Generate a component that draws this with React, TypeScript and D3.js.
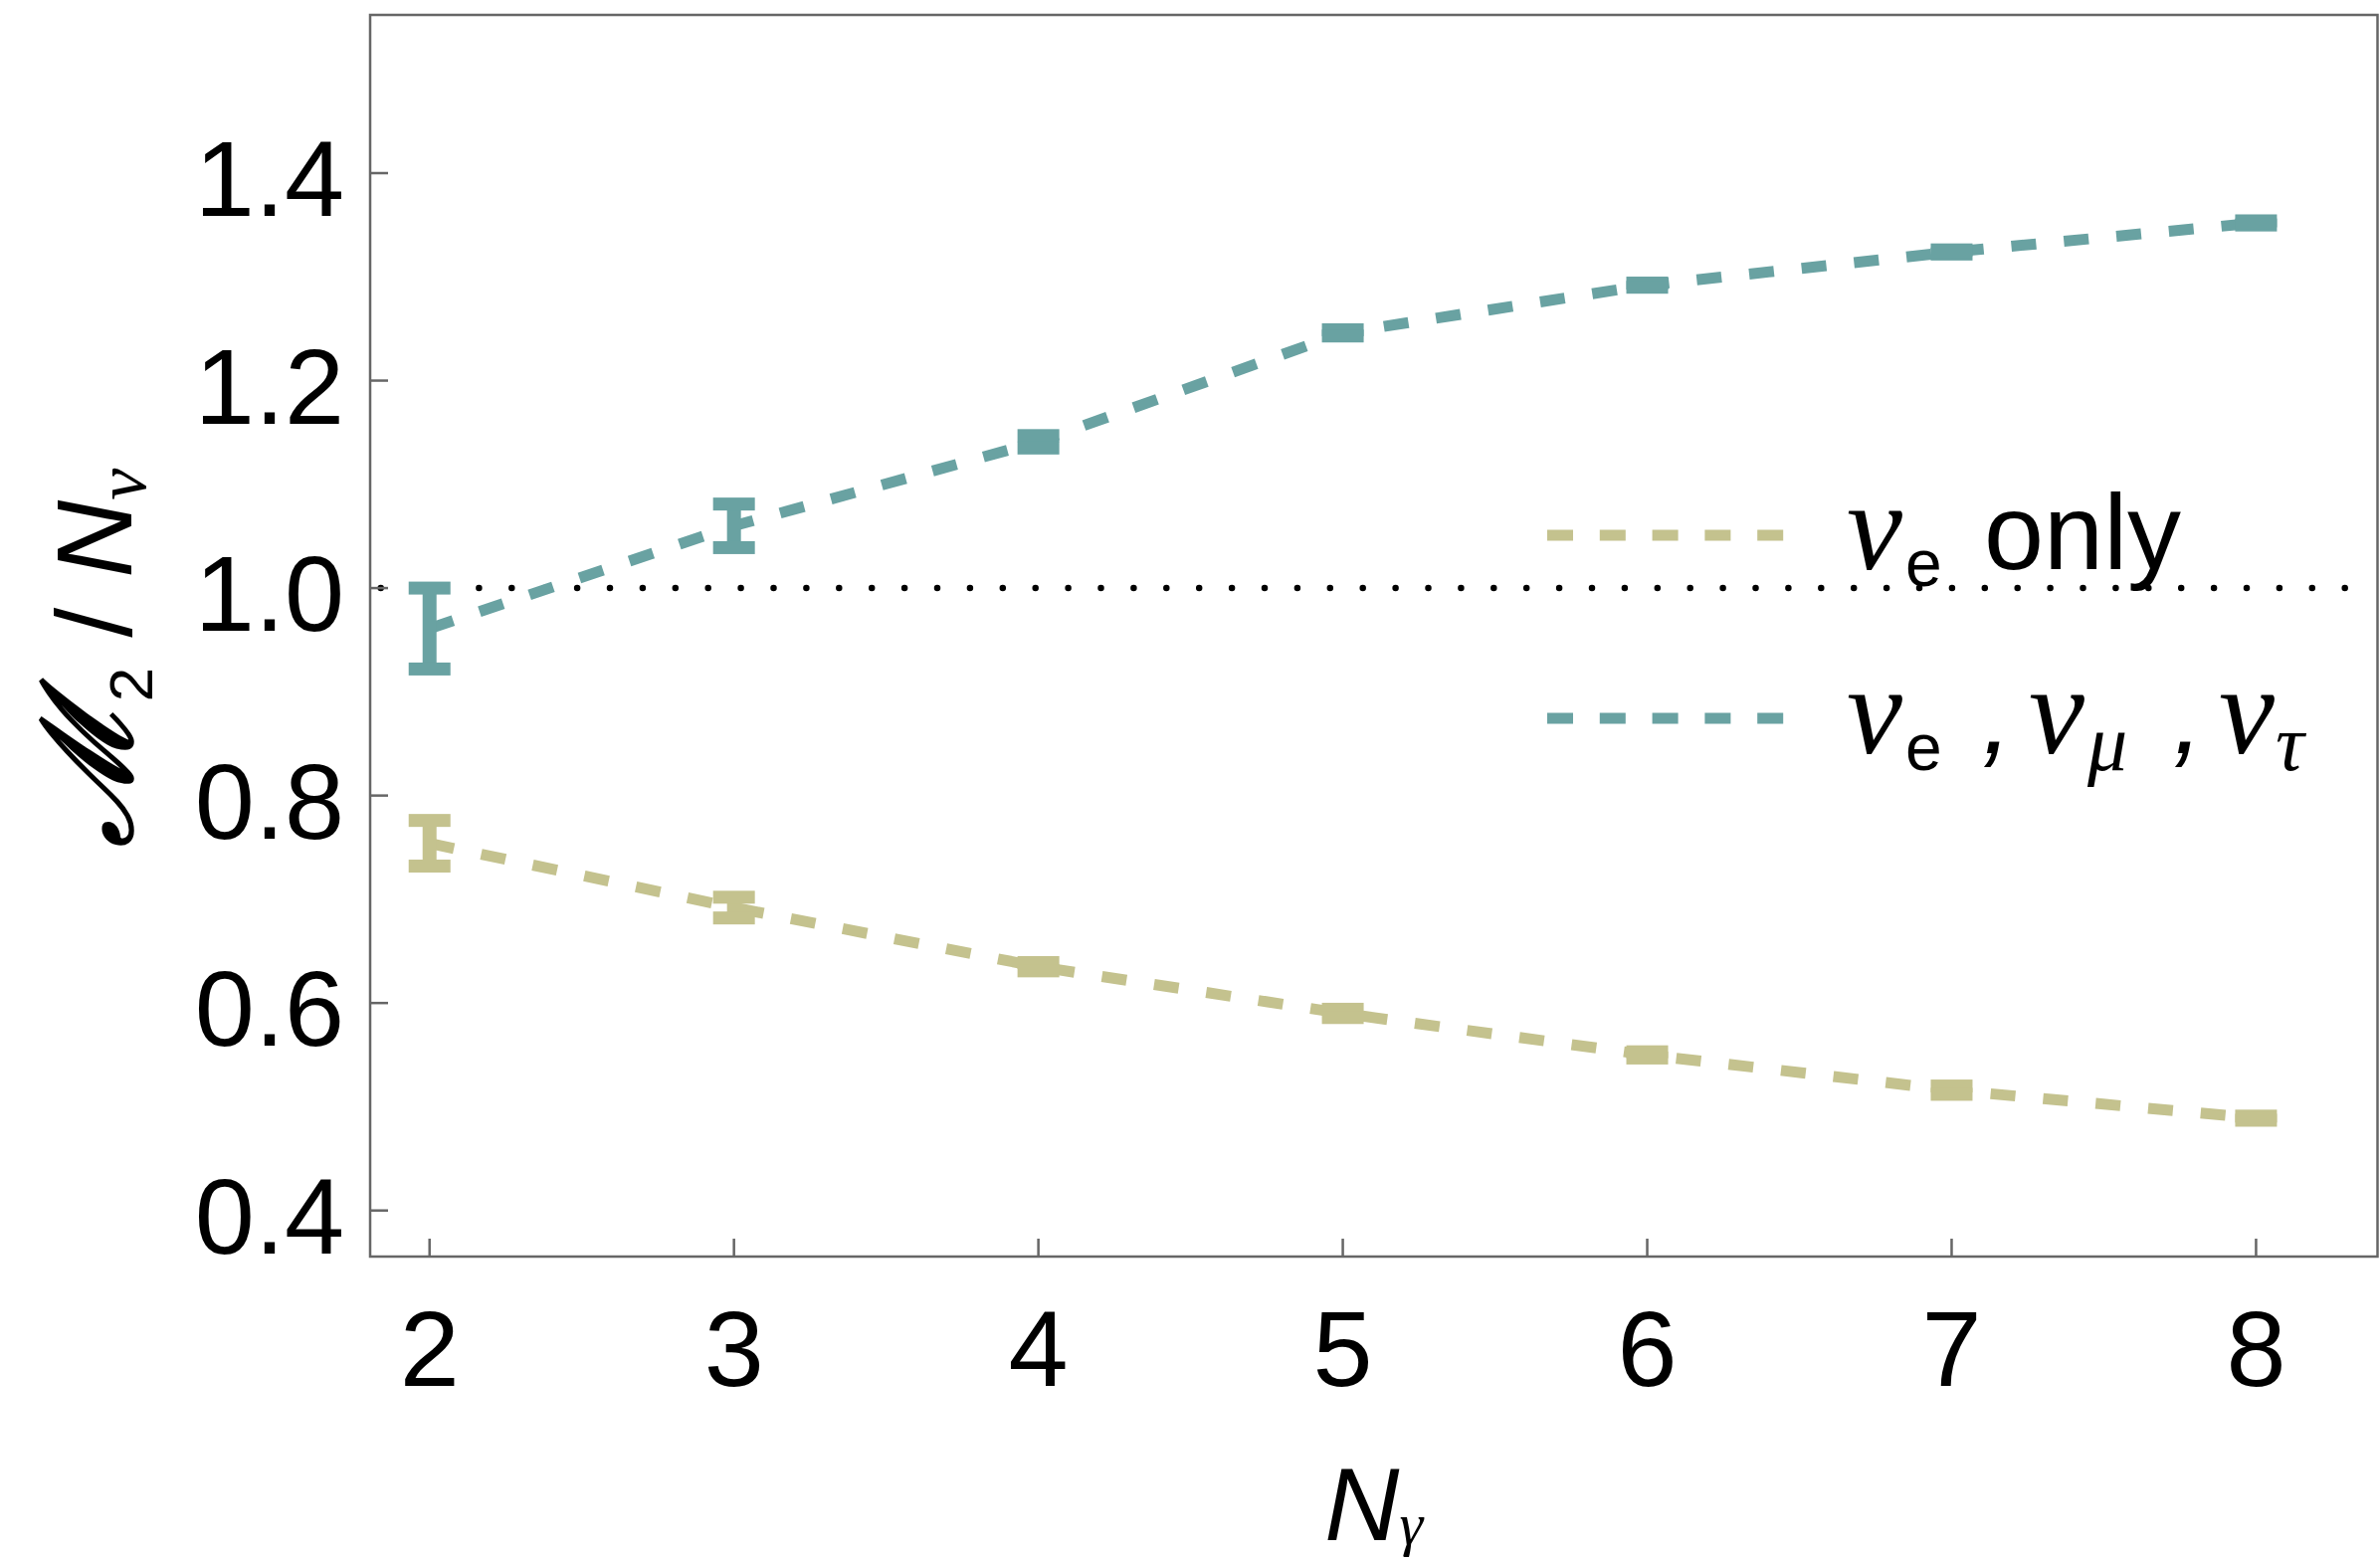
import React from 'react';
import * as d3 from 'd3';

// ---------- data ----------
const nuCounts = [2, 3, 4, 5, 6, 7, 8];
const allFlavorMean = [0.961, 1.06, 1.141, 1.246, 1.292, 1.324, 1.352];
const allFlavorErr = [0.039, 0.021, 0.006, 0.003, 0.002, 0.002, 0.002];
const electronOnlyMean = [0.754, 0.692, 0.635, 0.59, 0.55, 0.516, 0.489];
const electronOnlyErr = [0.022, 0.01, 0.004, 0.004, 0.003, 0.004, 0.002];
const xTicks = [2, 3, 4, 5, 6, 7, 8];
const yTicks = [0.4, 0.6, 0.8, 1.0, 1.2, 1.4];
const referenceLevel = 1.0;
const xDomain = [1.8048, 8.399];
const yDomain = [0.3556, 1.5525];

// ---------- style ----------
const W = 2392;
const H = 1570;
const plot = { left: 372, right: 2389.5, top: 15, bottom: 1263 };
const TEAL = '#69a2a2';
const OLIVE = '#c4c28e';
const FRAME = '#666666';
const SANS = "'Liberation Sans', Arial, Helvetica, sans-serif";
const SERIF = "'Liberation Serif', 'Times New Roman', serif";

const series = [
  { key: 'e', mean: electronOnlyMean, err: electronOnlyErr, color: OLIVE },
  { key: 'all', mean: allFlavorMean, err: allFlavorErr, color: TEAL },
];

export default function App() {
  const x = d3.scaleLinear().domain(xDomain).range([plot.left, plot.right]);
  const y = d3.scaleLinear().domain(yDomain).range([plot.bottom, plot.top]);
  const fmt = d3.format('.1f');

  const line = d3
    .line<number>()
    .x((_, i) => x(nuCounts[i]))
    .y((d) => y(d));

  const capW = 42;
  const capH = 13;
  const stemW = 14;
  const dash = '25 28';
  const lineW = 11;

  const dotOffset = 22.2;

  return (
    <div style={{ position: 'absolute', left: 0, top: 0 }}>
      <svg width={W} height={H} viewBox={`0 0 ${W} ${H}`} style={{ display: 'block', background: '#fff' }}>
        <rect x={0} y={0} width={W} height={H} fill="#fff" />
        <defs>
          <clipPath id="plotClip">
            <rect x={plot.left} y={plot.top} width={plot.right - plot.left} height={plot.bottom - plot.top} />
          </clipPath>
        </defs>

        {/* reference level dotted line */}
        <line
          x1={plot.left}
          x2={plot.right}
          y1={y(referenceLevel)}
          y2={y(referenceLevel)}
          stroke="#000"
          strokeWidth={6.5}
          strokeLinecap="round"
          strokeDasharray="0 32.9"
          strokeDashoffset={dotOffset}
        />

        {/* series */}
        <g clipPath="url(#plotClip)">
          {series.map((s) => (
            <path
              key={`l-${s.key}`}
              d={line(s.mean) || ''}
              fill="none"
              stroke={s.color}
              strokeWidth={lineW}
              strokeDasharray={dash}
            />
          ))}
          {series.map((s) => (
            <g key={`m-${s.key}`} fill={s.color}>
              {s.mean.map((m, i) => {
                const cx = x(nuCounts[i]);
                const yTop = y(m + s.err[i]);
                const yBot = y(m - s.err[i]);
                return (
                  <g key={i}>
                    <rect x={cx - stemW / 2} y={yTop} width={stemW} height={yBot - yTop} />
                    <rect x={cx - capW / 2} y={yTop - capH / 2} width={capW} height={capH} />
                    <rect x={cx - capW / 2} y={yBot - capH / 2} width={capW} height={capH} />
                  </g>
                );
              })}
            </g>
          ))}
        </g>

        {/* frame */}
        <rect
          x={plot.left}
          y={plot.top}
          width={plot.right - plot.left}
          height={plot.bottom - plot.top}
          fill="none"
          stroke={FRAME}
          strokeWidth={2.5}
        />

        {/* y ticks */}
        {yTicks.map((t) => (
          <g key={`yt-${t}`}>
            <line x1={plot.left} x2={plot.left + 18} y1={y(t)} y2={y(t)} stroke={FRAME} strokeWidth={2.5} />
            <text x={346} y={y(t) + 43} textAnchor="end" fontFamily={SANS} fontSize={108} fill="#000">
              {fmt(t)}
            </text>
          </g>
        ))}

        {/* x ticks */}
        {xTicks.map((t) => (
          <g key={`xt-${t}`}>
            <line x1={x(t)} x2={x(t)} y1={plot.bottom} y2={plot.bottom - 18} stroke={FRAME} strokeWidth={2.5} />
            <text x={x(t)} y={1393} textAnchor="middle" fontFamily={SANS} fontSize={108} fill="#000">
              {t}
            </text>
          </g>
        ))}

        {/* x axis label */}
        <text x={(plot.left + plot.right) / 2} y={1548} textAnchor="middle" fontFamily={SANS} fill="#000">
          <tspan fontSize={104} fontStyle="italic">N</tspan>
          <tspan fontSize={60} fontStyle="italic" fontFamily={SERIF} dy={4}>γ</tspan>
        </text>

        {/* y axis label */}
        <g transform="translate(132,661) rotate(-90)">
          <text x={0} y={0} textAnchor="middle" fontFamily={SANS} fill="#000">
            <tspan
              fontFamily="'DejaVu Serif', serif"
              fontStyle="italic"
              fontSize={126}
              stroke="#000"
              strokeWidth={3}
            >
              ℳ
            </tspan>
            <tspan fontSize={62} dy={21}>2</tspan>
            <tspan fontSize={108} dy={-21}> / </tspan>
            <tspan fontSize={108} fontStyle="italic">N</tspan>
            <tspan fontSize={72} fontFamily={SERIF} fontStyle="italic" dy={14}>ν</tspan>
          </text>
        </g>

        {/* legend */}
        <g>
          <line x1={1555} x2={1793} y1={538} y2={538} stroke={OLIVE} strokeWidth={lineW} strokeDasharray="26 26.8" />
          <text fontFamily={SANS} fill="#000">
            <tspan x={1856} y={572} fontFamily={SERIF} fontStyle="italic" fontSize={126}>ν</tspan>
            <tspan x={1915} y={589} fontSize={66}>e</tspan>
            <tspan x={1994} y={572} fontSize={108}>only</tspan>
          </text>

          <line x1={1555} x2={1793} y1={722} y2={722} stroke={TEAL} strokeWidth={lineW} strokeDasharray="26 26.8" />
          <text fontFamily={SANS} fill="#000">
            <tspan x={1856} y={757} fontFamily={SERIF} fontStyle="italic" fontSize={126}>ν</tspan>
            <tspan x={1915} y={774} fontSize={66}>e</tspan>
            <tspan x={1992} y={757} fontSize={108} fontStyle="italic">,</tspan>
            <tspan x={2039} y={757} fontFamily={SERIF} fontStyle="italic" fontSize={126}>ν</tspan>
            <tspan x={2098} y={774} fontFamily={SERIF} fontStyle="italic" fontSize={80}>μ</tspan>
            <tspan x={2184} y={757} fontSize={108} fontStyle="italic">,</tspan>
            <tspan x={2230} y={757} fontFamily={SERIF} fontStyle="italic" fontSize={126}>ν</tspan>
            <tspan x={2287} y={774} fontFamily={SERIF} fontStyle="italic" fontSize={80}>τ</tspan>
          </text>
        </g>
      </svg>
    </div>
  );
}
